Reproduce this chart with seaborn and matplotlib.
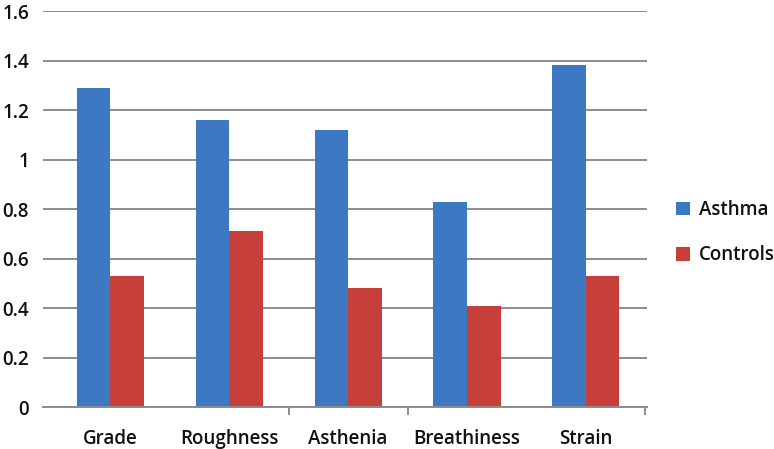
import matplotlib
matplotlib.use("Agg")
import matplotlib.pyplot as plt
import seaborn as sns
import pandas as pd

categories = ["Grade", "Roughness", "Asthenia", "Breathiness", "Strain"]
asthma = [1.29, 1.16, 1.12, 0.83, 1.38]
controls = [0.53, 0.71, 0.48, 0.41, 0.53]
series = ["Asthma", "Controls"]
yticks = [0, 0.2, 0.4, 0.6, 0.8, 1, 1.2, 1.4, 1.6]
ytick_labels = ["0", "0.2", "0.4", "0.6", "0.8", "1", "1.2", "1.4", "1.6"]

df = pd.DataFrame({
    "category": categories * 2,
    "value": asthma + controls,
    "group": [series[0]] * len(categories) + [series[1]] * len(categories),
})

sns.set_style("white")
plt.rcParams['font.family'] = ['Open Sans', 'DejaVu Sans']
plt.rcParams['font.weight'] = 'semibold'

fig = plt.figure(figsize=(7.74, 4.49), dpi=100)
ax = fig.add_axes([0.0552, 0.0935, 0.781, 0.882])

palette = {"Asthma": "#3D78C2", "Controls": "#C63F3A"}
sns.barplot(data=df, x="category", y="value", hue="group", order=categories,
            hue_order=series, palette=palette, width=0.565, saturation=1,
            edgecolor="none", linewidth=0, ax=ax, legend=True)

ax.set_xlim(-0.569, 4.516)
ax.set_ylim(0, 1.6)
ax.set_yticks(yticks)
ax.set_yticklabels(ytick_labels)
ax.yaxis.grid(True, color="#8C8C8C", linewidth=1.4)
ax.set_axisbelow(True)
for s in ["top", "right", "left"]:
    ax.spines[s].set_visible(False)
ax.spines["bottom"].set_color("#8C8C8C")
ax.spines["bottom"].set_linewidth(1.4)

ax.set_xlabel("")
ax.set_ylabel("")
ax.tick_params(axis="y", length=0, pad=10, labelsize=13.5, labelcolor="#111111")
ax.tick_params(axis="x", which="major", bottom=False, length=0, pad=16,
               labelsize=13.5, labelcolor="#111111")
ax.set_xticks([1.5, 2.5, 4.5], minor=True)
ax.tick_params(axis="x", which="minor", bottom=True, length=6, width=1.4,
               color="#8C8C8C", direction="out")

leg = ax.legend(loc="center left", bbox_to_anchor=(1.02, 0.44), frameon=False,
                fontsize=13.5, handlelength=0.75, handleheight=0.75,
                handletextpad=0.45, labelspacing=1.35)
for t in leg.get_texts():
    t.set_color("#111111")

fig.savefig("out.png", dpi=100)
